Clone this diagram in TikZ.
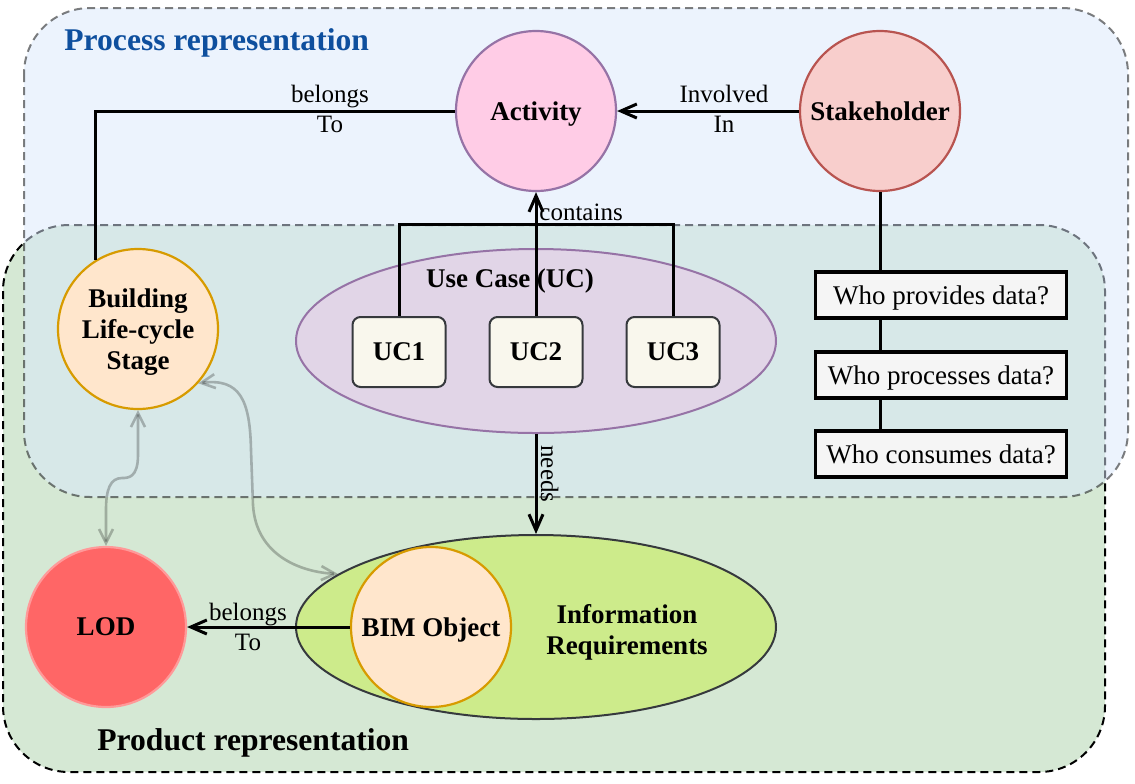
\documentclass[tikz,border=0pt]{standalone}
\usepackage{fontspec}
\setmainfont{Liberation Serif}
\usetikzlibrary{arrows.meta,shapes.geometric}

\definecolor{procblue}{HTML}{DAE8FC}
\definecolor{prodgreen}{HTML}{D5E8D4}
\definecolor{titleblue}{HTML}{0E4F9E}
\definecolor{actfill}{HTML}{FFCCE6}
\definecolor{purpleline}{HTML}{9673A6}
\definecolor{stakefill}{HTML}{F8CECC}
\definecolor{stakeline}{HTML}{B85450}
\definecolor{orangefill}{HTML}{FFE6CC}
\definecolor{orangeline}{HTML}{D79B00}
\definecolor{ucfill}{HTML}{E1D5E7}
\definecolor{boxfill}{HTML}{F9F7ED}
\definecolor{darkline}{HTML}{36393D}
\definecolor{whofill}{HTML}{F5F5F5}
\definecolor{irfill}{HTML}{CDEB8B}
\definecolor{lodfill}{HTML}{FF6666}
\definecolor{lodline}{HTML}{FF9999}

\begin{document}
\begin{tikzpicture}[x=0.5pt, y=-0.5pt,
    circ/.style={circle, draw, line width=1.1pt, minimum size=80pt, inner sep=0pt,
        align=center, text depth=0pt, font=\fontsize{13.5}{15.5}\selectfont\bfseries},
    ucbox/.style={draw=darkline, fill=boxfill, rounded corners=4pt, line width=1pt,
        minimum width=46.5pt, minimum height=35pt, font=\fontsize{13.5}{15.5}\selectfont\bfseries},
    whobox/.style={draw, fill=whofill, line width=1.6pt, minimum width=125.5pt,
        minimum height=23pt, text depth=0pt, font=\fontsize{13.5}{15.5}\selectfont},
    lbl/.style={align=center, inner sep=0pt, font=\fontsize{12.5}{14.8}\selectfont},
    title/.style={anchor=base west, inner sep=0pt, font=\fontsize{15.8}{18}\selectfont\bfseries},
    region/.style={line width=1pt, rounded corners=33pt, dash pattern=on 4pt off 2.5pt},
    conn/.style={line width=1.5pt},
    arr/.style={conn, -{Straight Barb[length=8pt, width=7pt]}},
    softarr/.style={draw=black, draw opacity=0.25, line width=1.3pt,
        {Straight Barb[length=7pt, width=7pt]}-{Straight Barb[length=7pt, width=7pt]}},
]
\useasboundingbox (0,0) rectangle (1135,783);

% Representation areas
\draw[region, fill=prodgreen] (3,225) rectangle (1105,772);
\draw[region, fill=procblue, fill opacity=0.5, draw opacity=0.5] (24,8) rectangle (1128,497);
\node[title, text=titleblue] (proctitle) at (64,50) {Process representation};
\node[title] (prodtitle) at (97,750) {Product representation};

% Process side
\node[circ, fill=actfill, draw=purpleline] (activity) at (536,111) {Activity};
\node[circ, fill=stakefill, draw=stakeline] (stake) at (880,111) {Stakeholder};
\node[circ, fill=orangefill, draw=orangeline] (stage) at (138,329) {Building\\Life-cycle\\Stage};

% Use cases
\node[ellipse, draw=purpleline, fill=ucfill, line width=1pt, minimum width=240pt,
    minimum height=92pt, inner sep=0pt] (uc) at (536,341) {};
\node[anchor=base, font=\fontsize{13.5}{15.5}\selectfont\bfseries] (uctitle) at (510,287) {Use Case (UC)};
\foreach \i/\x in {1/399, 2/536, 3/673}
    \node[ucbox] (uc\i) at (\x,352) {UC\i};

% Data questions
\foreach \i/\y/\t in {1/295/provides, 2/375/processes, 3/454/consumes}
    \node[whobox] (who\i) at (941,\y) {Who \t\ data?};

% Product side
\node[ellipse, draw=darkline, fill=irfill, line width=1pt, minimum width=240pt,
    minimum height=92pt, inner sep=0pt] (ir) at (536,627) {};
\node[circ, fill=orangefill, draw=orangeline] (bim) at (431,627) {BIM Object};
\node[align=center, text depth=0pt, font=\fontsize{13.5}{15.5}\selectfont\bfseries] (irtext) at (627,629) {Information\\Requirements};
\node[circ, fill=lodfill, draw=lodline] (lod) at (106,627) {LOD};

% Connectors
\draw[conn] (activity.west) -| (stage.122);
\node[lbl] (belongs1) at (330,109) {belongs\\To};
\draw[arr] (stake.west) -- (activity.east);
\node[lbl] (involved) at (724,109) {Involved\\In};
\coordinate (join) at (536,224);
\draw[conn] (uc1.north) |- (join) -| (uc3.north);
\draw[arr] (uc2.north) -- (activity.south);
\node[lbl, anchor=base west] (contains) at (539,220) {contains};
\draw[arr] (uc.south) -- (ir.north);
\node[lbl, rotate=-90, anchor=base west] (needs) at (541,445) {needs};
\draw[conn] (stake.south) -- (stake.south |- who1.north);
\draw[conn] (who1.south -| stake) -- (who2.north -| stake);
\draw[conn] (who2.south -| stake) -- (who3.north -| stake);
\draw[arr] (bim.west) -- (lod.east);
\node[lbl] (belongs2) at (248,627) {belongs\\To};

% Soft links
\draw[softarr] (stage.south) -- (138,455) .. controls (138,478) and (128,478) .. (122,478)
    .. controls (110,478) and (106,490) .. (106,510) -- (lod.north);
\draw[softarr] (stage.-42) .. controls (240,378) and (250,400) .. (251,450) -- (253,505)
    .. controls (256,555) and (300,572) .. (ir.165);
\end{tikzpicture}
\end{document}
